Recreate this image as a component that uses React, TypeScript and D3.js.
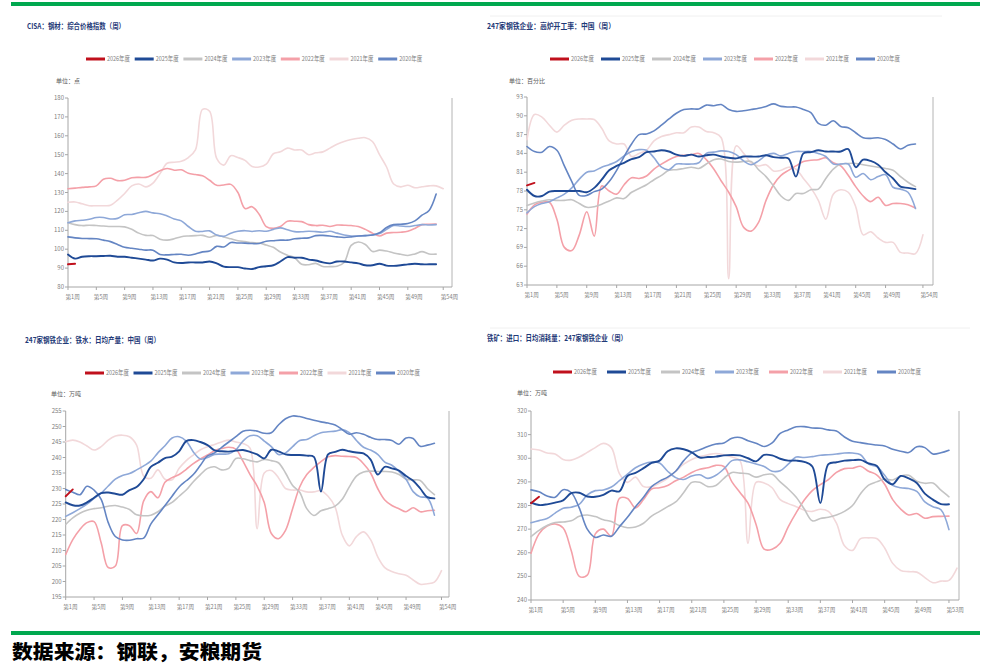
import * as d3 from 'd3';

const yearLabels = ['2026年度', '2025年度', '2024年度', '2023年度', '2022年度', '2021年度', '2020年度'];
const yearColors = ['#C0101C', '#1F4A96', '#C4C4C4', '#8EA8D8', '#F4A0A8', '#F2D8DA', '#6485C3'];

// CISA: 钢材综合价格指数
const price2026 = [92, 92.3];
const price2025 = [97.2, 95, 96, 96.3, 96.3, 96.4, 96.5, 96, 96, 95.5, 95, 94.5, 94, 95, 94.5, 93, 92.7, 93, 93, 93, 93.5, 92.5, 90.8, 90.5, 90.5, 89.8, 89.5, 90.5, 91, 91.5, 93.5, 95.8, 95.5, 95.5, 94.5, 94, 93, 92.5, 93.5, 93.5, 93, 92.5, 91.5, 91.5, 92.3, 91.3, 91.2, 91.5, 92, 92.3, 92, 92, 92];
const price2024 = [114, 113, 112.5, 112.7, 112.5, 112.3, 112, 112, 111.8, 110.5, 108.5, 107.3, 107.2, 105.3, 104.8, 105.5, 106.6, 107, 107.2, 107.3, 106.3, 107.3, 106.5, 105.5, 104.5, 104, 103.5, 103.3, 102.2, 101, 98.5, 96.8, 95.5, 92, 91.8, 92.5, 90.8, 90.8, 91, 93, 102, 103.8, 102.5, 98.8, 99.5, 99, 98, 97.3, 96.7, 97.5, 98.7, 97.5, 97.4];
const price2023 = [114, 115, 115.3, 115.8, 116.8, 116.8, 116, 116.3, 118.2, 118.4, 119.3, 120, 119.2, 118.8, 117.6, 116, 115, 112, 109.5, 109.4, 109.7, 107.5, 106.8, 108.5, 109.5, 109.8, 109.4, 109.8, 109.5, 110.5, 111.3, 110.3, 109.3, 109.2, 109.5, 109.3, 109, 109.5, 108.5, 107.5, 107, 107, 107.2, 107.5, 108.3, 110.5, 112.5, 112.3, 112, 112.5, 113, 112.8, 113];
const price2022 = [132, 132.3, 132.7, 133, 133.5, 137, 137.5, 136.3, 136.5, 137.8, 138, 138, 139.5, 141.5, 142.7, 141.8, 142, 140.2, 139.5, 138.8, 136.5, 133.8, 134, 134.3, 130, 121.5, 122.5, 118.5, 112, 111, 112, 114.8, 114.8, 114.6, 113, 112.5, 112.7, 112, 112.8, 112.7, 112.5, 112, 110.5, 108.5, 107, 108.5, 108.8, 109, 109.5, 111, 113, 113.2, 113.3];
const price2021 = [124.8, 125, 124, 123, 123, 123, 123.2, 126, 129.5, 133.5, 134.5, 133, 135, 140, 145.5, 146, 146.5, 148.5, 152.5, 174, 173, 148, 144.5, 149.5, 148.5, 147, 143.8, 143.5, 145, 150.5, 151.5, 153.5, 152.5, 152.5, 150, 151, 151.5, 153.5, 155.5, 157, 158, 158.7, 159, 157, 150, 143.5, 134.5, 133, 133.8, 132.5, 133, 133.5, 133.5, 132];
const price2020 = [106.5, 106, 105.7, 105.6, 105.5, 104.8, 104, 102.5, 101, 100.5, 100, 99.5, 99.5, 97.2, 97, 97.2, 97.3, 96.8, 97.5, 98.6, 99, 101.5, 101.2, 103.5, 103.3, 103.2, 103, 103, 104.2, 104.5, 104.8, 104.8, 105.5, 105.8, 106, 107.2, 107.3, 107, 106.5, 106.2, 106.5, 107, 107.2, 107.5, 108.7, 111.5, 113, 113.2, 113.6, 115, 118, 120.5, 129.2];

// 247家钢铁企业：高炉开工率
const bf2026 = [78.9, 79.3];
const bf2025 = [78.2, 77.2, 77.2, 77.9, 78, 78, 78, 78, 77.8, 78.5, 79.8, 81.3, 82, 82.5, 83.1, 83.4, 84.2, 84.3, 84.5, 84.3, 83.8, 83.6, 83.8, 83.5, 83.7, 83.8, 83.5, 83.3, 83.2, 83.5, 83.5, 83.5, 83.7, 83.4, 83.3, 83.2, 80.3, 84, 84.2, 84.5, 84.3, 84.3, 84.3, 84.7, 81.8, 83, 82.8, 82.2, 81, 80, 78.7, 78.5, 78.3];
const bf2024 = [75.7, 76.1, 76.4, 76.6, 76.5, 76.5, 76.6, 76, 75.4, 75.5, 75.9, 76.4, 76.9, 76.8, 77.8, 78.4, 79, 79.8, 80.5, 81.3, 81.4, 81.6, 81.8, 81.6, 82.3, 83, 83.1, 82.7, 82.6, 82.7, 82.7, 81.4, 80.3, 78.8, 77.2, 76.5, 77.6, 77.6, 78.2, 78.3, 80, 81.5, 82.3, 82.4, 82.4, 82.2, 82, 81.8, 81.6, 81.3, 80.3, 79.4, 78.7];
const bf2023 = [74.5, 75.5, 76, 76.3, 76.9, 77.5, 78.5, 79.9, 81, 81.2, 81.8, 82.2, 82.7, 83.6, 84.3, 84.6, 84.5, 83.3, 81.8, 81.4, 82.3, 82.3, 82.3, 82.5, 84, 84.2, 84.4, 84.3, 83.8, 82.8, 82.2, 82.8, 83.7, 84, 83.6, 84, 84.3, 84.3, 84.3, 84, 83.5, 82.3, 82.3, 82.3, 80.2, 80.8, 79.8, 80.3, 80.6, 78.6, 78.3, 77.8, 75.2];
const bf2022 = [74.3, 75.8, 76.2, 76.2, 73.5, 69, 68.5, 71, 74.7, 70.8, 78.8, 78, 77.5, 79, 80.1, 80, 80.4, 81.5, 82.3, 83, 83.5, 83.7, 83.8, 84, 83, 81.5, 79.6, 77.8, 75.5, 72.2, 71.6, 73, 76.5, 79, 80.5, 81.3, 82, 82.7, 82.9, 83, 83.3, 82.5, 82, 80.5, 78.7, 77.2, 76.3, 77, 75.7, 76, 76, 75.8, 75.3];
const bf2021 = [86.2, 90.2, 89.8, 88.5, 87.4, 88.5, 89.3, 89.5, 89.5, 89.4, 88, 86, 85.5, 85.5, 83.5, 84, 84.5, 86, 86.7, 87, 87.3, 87.3, 88.2, 88.2, 87.5, 87.3, 86.5, 64, 85.2, 84, 82.5, 82, 82.2, 81.2, 81.3, 81.8, 81.5, 80, 78.5, 76.5, 73.5, 77.5, 78.2, 77.8, 75.5, 71, 71.5, 70.5, 69.8, 69.8, 68.2, 68.1, 68, 71];
const bf2020 = [85.1, 84.3, 84.2, 85.1, 84.5, 82, 79.5, 77.3, 77.3, 77.9, 78.3, 79.5, 81.3, 83.5, 85.5, 87, 87.1, 87.6, 88.5, 89.5, 90.4, 91, 91.1, 91.1, 91.7, 91.6, 91.8, 91, 90.7, 90.8, 91, 91.2, 91.5, 91.9, 91.5, 91.4, 91.4, 91, 90.5, 88.8, 88.5, 89.2, 88.3, 88.1, 87.3, 86.5, 86.4, 86.5, 86.2, 85.5, 84.7, 85.3, 85.5];

// 247家钢铁企业：铁水日均产量
const hm2026 = [227.5, 229.7];
const hm2025 = [225.5, 224.6, 224.5, 225.5, 227, 228.5, 228.7, 228.3, 228, 229.5, 230.5, 233, 237, 238.3, 239.8, 240.3, 242, 245.3, 245.6, 245, 244, 242.3, 242, 241.9, 242.2, 242.4, 241.8, 241, 239.7, 242.5, 242, 241, 240.8, 240.8, 240.6, 240.2, 229, 241, 241.8, 242.5, 242, 241.6, 241.3, 239.3, 234.5, 237, 236.5, 235.8, 234, 232.5, 230, 227.2, 226.8];
const hm2024 = [218.4, 220.5, 222, 223, 223.5, 223.8, 224.3, 224.5, 224, 223.2, 221.5, 221.2, 221.4, 222.5, 224.3, 225.5, 227.5, 229.5, 232.2, 234.5, 236.5, 237, 236, 236.5, 239.7, 239.6, 239, 238.6, 239.4, 239, 238.3, 235, 231, 228.8, 223.5, 221.3, 222.8, 223.5, 224.3, 226.5, 230.5, 234, 235.3, 235.6, 235.5, 235.5, 235.3, 234.5, 233, 232.8, 232.6, 230, 228];
const hm2023 = [221, 222.2, 223.5, 225, 226.8, 228.5, 230.8, 233, 234.2, 234.8, 236, 237.3, 238.8, 241.5, 243.8, 246.3, 246.7, 245.3, 241.8, 239.5, 240, 241, 241.1, 241.2, 242.5, 245.3, 247, 247, 245.3, 243.5, 241, 241.5, 243.5, 245.5, 245.8, 247, 248, 248.3, 248.5, 249, 248, 245.5, 243.3, 242.4, 241, 238.5, 237.5, 235.5, 233, 229, 227.3, 227, 221.4];
const hm2022 = [208.7, 213.5, 216.8, 219, 219.3, 212.5, 204.5, 205, 218, 218, 215.5, 226, 229, 227, 232, 233.5, 234.5, 236.2, 238, 239.5, 240.8, 242.2, 242.9, 243.3, 242.7, 238.8, 234.5, 230.8, 225.5, 215.5, 213.8, 216.5, 223.5, 230.5, 234.5, 236.8, 238.7, 240.2, 240.6, 240.4, 240.3, 240, 238, 235, 230, 226.3, 224.5, 223.5, 222.5, 223.8, 222.5, 222.8, 223];
const hm2021 = [245.1, 245.6, 245, 243.7, 242.4, 243.5, 245.6, 246.9, 247.2, 246.7, 244, 234, 233.3, 236, 233, 232.8, 236.5, 239, 240.8, 242.5, 243.5, 244.2, 245, 245.6, 245, 244.5, 243, 217, 235, 235.8, 233.5, 230, 229.5, 229.5, 228.9, 228.9, 229.3, 227.5, 224, 215, 211.5, 214.5, 216, 213.5, 208, 204.5, 203.2, 202.5, 202, 200.5, 199.1, 199.3, 199.8, 203.5];
const hm2020 = [229.7, 228.8, 228, 230.7, 229.5, 226.5, 219, 214.5, 213.4, 213.3, 213.8, 214, 218.5, 221.5, 224.5, 227.5, 230.5, 232.5, 234.5, 237.5, 240.5, 241.5, 243.3, 245, 246.7, 248.5, 248.8, 248.5, 247.8, 248, 250.5, 252.5, 253.4, 253.2, 252.6, 252, 251.5, 251.1, 250.5, 249, 247.5, 248, 247.5, 246.5, 245.8, 245.8, 245.5, 244.3, 246.3, 246.1, 243.6, 244, 244.6];

// 铁矿：进口：日均消耗量
const ore2026 = [281, 283.7];
const ore2025 = [281.2, 280.2, 280.5, 281.2, 282.2, 285.2, 285.4, 283.8, 283.7, 284.5, 286.3, 286, 292.5, 293.8, 295.8, 298, 299, 303, 304.2, 303.8, 302.5, 300.3, 300.5, 300.7, 301.2, 301.4, 301.2, 300, 298.7, 301.4, 301.2, 299.8, 299, 299, 298.5, 296.5, 281, 297.5, 298.3, 299, 299.2, 299.3, 297.8, 296.8, 291, 289, 292.5, 291.5, 289.5, 285, 282.5, 280.6, 280.5];
const ore2024 = [266.8, 269.5, 271.5, 272.8, 273, 273.5, 275.4, 276, 275.3, 274, 273.2, 271.5, 270.6, 270.9, 272.5, 275.5, 277.5, 279.5, 281.5, 285.5, 289.8, 289.8, 288, 288.5, 291.5, 294, 293.7, 293.4, 292, 293, 293.2, 290, 287, 283.5, 278.5, 273.5, 274.5, 275, 276, 277.5, 280, 285, 288.6, 290, 291.2, 290.8, 292.5, 292.8, 290.3, 289.4, 289.5, 286.5, 283.7];
const ore2023 = [272.7, 273.6, 274.5, 276.8, 278.8, 279.3, 280.5, 284.5, 286.3, 286.6, 287.8, 290.5, 293.3, 296, 297.6, 298.4, 298, 294.5, 291.8, 291, 292.5, 293, 291.5, 292.8, 295.5, 299, 299.3, 298.5, 297.6, 296.5, 294.5, 294.7, 297.5, 300.5, 300.3, 300.7, 301.3, 301.5, 301.8, 302.2, 302.2, 301.5, 297.5, 296.5, 292.8, 288.5, 287.5, 287.2, 286, 281.5, 279.5, 278.2, 269.8];
const ore2022 = [259.8, 268, 271.3, 272.2, 270.5, 261, 250, 250.5, 268, 270, 267, 283, 283, 279, 282.5, 287, 287.5, 288.5, 290.5, 292, 294, 295.3, 296, 297, 296.5, 290, 285.5, 281, 272, 261.5, 261.5, 264, 271, 277, 282.3, 286.3, 288.8, 291, 294, 295.6, 295.8, 296.6, 294.5, 293, 289, 282.5, 278.5, 276, 276.6, 274.6, 275.3, 275.4, 275.5];
const ore2021 = [303.9, 303.5, 302.2, 301.8, 299.5, 299.2, 300.5, 302.5, 304.5, 306.3, 304.5, 293.5, 289.8, 292, 288, 288, 289.5, 291.5, 294.5, 297.5, 299.5, 300.7, 301.5, 302, 301.5, 300.5, 299, 264, 289.8, 289.5, 287.5, 282.5, 280.8, 279.5, 278, 277.5, 278.4, 277.5, 272.5, 263, 261, 266, 266.3, 266, 262, 255.5, 252.5, 252, 251.8, 249.5, 247.3, 248, 248.3, 253.5];
const ore2020 = [286.6, 285.8, 284, 283.5, 286.7, 285.5, 279, 270, 266.5, 267.5, 267, 271, 275, 279.5, 283.5, 288, 290.3, 292, 294.5, 299, 302.3, 303.6, 305, 306, 306.5, 308.5, 308.8, 307.4, 306.4, 305, 306.5, 310.5, 312, 313.3, 313.4, 312.8, 312.7, 312, 311.5, 309, 307.2, 306.6, 306, 305.6, 305.2, 303.8, 303, 302.4, 304.9, 304.5, 301.8, 302.3, 303.4];

const weekTicks54 = [1, 5, 9, 13, 17, 21, 25, 29, 33, 37, 41, 45, 49, 54];
const weekTicks53 = [1, 5, 9, 13, 17, 21, 25, 29, 33, 37, 41, 45, 49, 53];

// later entries are drawn on top
const drawOrder = [5, 4, 2, 3, 6, 1, 0];

const CJK = '"Noto Sans CJK SC", "Noto Sans", sans-serif';

type PanelCfg = {
  title: string;
  titleLen: number;
  unit: string;
  series: number[][];
  yMin: number;
  yMax: number;
  yStep: number;
  weekEnd: number;
  ticks: number[];
  left: number;
  xEnd: number;
  rightLine: number;
  top: number;
  bottom: number;
  titleX: number;
  titleY: number;
  legendX: number;
  legendStep: number;
  legendY: number;
  unitX: number;
  unitY: number;
};

function Panel({ cfg }: { cfg: PanelCfg }) {
  const x = d3.scaleLinear().domain([1, cfg.weekEnd]).range([cfg.left, cfg.xEnd]);
  const y = d3.scaleLinear().domain([cfg.yMin, cfg.yMax]).range([cfg.bottom, cfg.top]);
  const yTicks = d3.range(cfg.yMin, cfg.yMax + cfg.yStep / 2, cfg.yStep);
  const line = d3
    .line<number>()
    .x((_, i) => x(i + 1))
    .y((d) => y(d))
    .curve(d3.curveCatmullRom.alpha(0.5));

  return (
    <g>
      <text
        x={cfg.titleX}
        y={cfg.titleY}
        fontFamily={CJK}
        fontWeight={700}
        fontSize={7.6}
        fill="#1F3A78"
        textLength={cfg.titleLen}
        lengthAdjust="spacingAndGlyphs"
      >
        {cfg.title}
      </text>

      {yearLabels.map((lab, i) => {
        const lx = cfg.legendX + i * cfg.legendStep;
        return (
          <g key={lab}>
            <line x1={lx} x2={lx + 19} y1={cfg.legendY} y2={cfg.legendY} stroke={yearColors[i]} strokeWidth={3} />
            <text
              x={lx + 21}
              y={cfg.legendY + 2.4}
              fontFamily={CJK}
              fontSize={6.6}
              fill="#808080"
              textLength={23}
              lengthAdjust="spacingAndGlyphs"
            >
              {lab}
            </text>
          </g>
        );
      })}

      <text x={cfg.unitX} y={cfg.unitY} fontFamily={CJK} fontSize={6} fill="#595959">
        {cfg.unit}
      </text>

      {/* right border */}
      <line x1={cfg.rightLine} x2={cfg.rightLine} y1={cfg.top} y2={cfg.bottom} stroke="#B4B4B4" strokeWidth={1} />

      {/* y axis */}
      <line x1={cfg.left} x2={cfg.left} y1={cfg.top} y2={cfg.bottom} stroke="#A6A6A6" strokeWidth={1} />
      {yTicks.map((t) => (
        <g key={t}>
          <line x1={cfg.left - 3} x2={cfg.left} y1={y(t)} y2={y(t)} stroke="#A6A6A6" />
          <text
            x={cfg.left - 4}
            y={y(t) + 2}
            textAnchor="end"
            fontFamily={CJK}
            fontSize={6}
            fill="#808080"
          >
            {t}
          </text>
        </g>
      ))}

      {/* x axis */}
      <line x1={cfg.left} x2={cfg.rightLine} y1={cfg.bottom} y2={cfg.bottom} stroke="#A6A6A6" strokeWidth={1} />
      {cfg.ticks.map((w) => (
        <g key={w}>
          <line x1={x(w)} x2={x(w)} y1={cfg.bottom} y2={cfg.bottom + 3} stroke="#A6A6A6" />
          <text
            x={x(w) - 2.5}
            y={cfg.bottom + 11.5}
            fontFamily={CJK}
            fontSize={5.6}
            fill="#808080"
          >
            {`第${w}周`}
          </text>
        </g>
      ))}

      {drawOrder.map((k) => (
        <path
          key={k}
          d={line(cfg.series[k]) ?? ''}
          fill="none"
          stroke={yearColors[k]}
          strokeWidth={k <= 1 ? 1.9 : 1.6}
          strokeLinejoin="round"
          strokeLinecap="round"
        />
      ))}
    </g>
  );
}

export default function App() {
  const panels: PanelCfg[] = [
    {
      title: 'CISA：钢材：综合价格指数（周）',
      titleLen: 98,
      unit: '单位：点',
      series: [price2026, price2025, price2024, price2023, price2022, price2021, price2020],
      yMin: 80,
      yMax: 180,
      yStep: 10,
      weekEnd: 55,
      ticks: weekTicks54,
      left: 68,
      xEnd: 450.3,
      rightLine: 452,
      top: 98,
      bottom: 287,
      titleX: 27,
      titleY: 29,
      legendX: 86,
      legendStep: 48.7,
      legendY: 59,
      unitX: 56,
      unitY: 83,
    },
    {
      title: '247家钢铁企业：高炉开工率：中国（周）',
      titleLen: 128,
      unit: '单位：百分比',
      series: [bf2026, bf2025, bf2024, bf2023, bf2022, bf2021, bf2020],
      yMin: 63,
      yMax: 93,
      yStep: 3,
      weekEnd: 55,
      ticks: weekTicks54,
      left: 527,
      xEnd: 930.4,
      rightLine: 933,
      top: 97,
      bottom: 285,
      titleX: 487,
      titleY: 29,
      legendX: 550,
      legendStep: 51,
      legendY: 59,
      unitX: 509,
      unitY: 83,
    },
    {
      title: '247家钢铁企业：铁水：日均产量：中国（周）',
      titleLen: 135,
      unit: '单位：万吨',
      series: [hm2026, hm2025, hm2024, hm2023, hm2022, hm2021, hm2020],
      yMin: 195,
      yMax: 255,
      yStep: 5,
      weekEnd: 55,
      ticks: weekTicks54,
      left: 65.7,
      xEnd: 448.6,
      rightLine: 449,
      top: 411,
      bottom: 597,
      titleX: 25,
      titleY: 343,
      legendX: 85,
      legendStep: 48.5,
      legendY: 373,
      unitX: 51,
      unitY: 396,
    },
    {
      title: '铁矿：进口：日均消耗量：247家钢铁企业（周）',
      titleLen: 140,
      unit: '单位：万吨',
      series: [ore2026, ore2025, ore2024, ore2023, ore2022, ore2021, ore2020],
      yMin: 240,
      yMax: 320,
      yStep: 10,
      weekEnd: 54,
      ticks: weekTicks53,
      left: 531,
      xEnd: 957,
      rightLine: 959,
      top: 411,
      bottom: 600,
      titleX: 487,
      titleY: 341,
      legendX: 553,
      legendStep: 54,
      legendY: 372,
      unitX: 517,
      unitY: 395,
    },
  ];

  return (
    <svg
      width={987}
      height={667}
      viewBox="0 0 987 667"
      style={{ position: 'absolute', left: 0, top: 0, background: '#fff' }}
    >
      <rect x={0} y={0} width={987} height={667} fill="#fff" />
      <rect x={11} y={2} width={969} height={4} fill="#00A84F" />
      {/* faint frame lines of the pasted charts */}
      <line x1={490} x2={942} y1={16} y2={16} stroke="#F0F0F0" />
      <line x1={490} x2={970} y1={328} y2={328} stroke="#F0F0F0" />

      {panels.map((p) => (
        <Panel key={p.title} cfg={p} />
      ))}

      <rect x={11} y={631} width={969} height={4} fill="#00A84F" />
      <text
        x={12}
        y={659}
        fontFamily={CJK}
        fontWeight={900}
        fontSize={19}
        fill="#000"
        textLength={250}
        lengthAdjust="spacingAndGlyphs"
      >
        数据来源：钢联，安粮期货
      </text>
    </svg>
  );
}
